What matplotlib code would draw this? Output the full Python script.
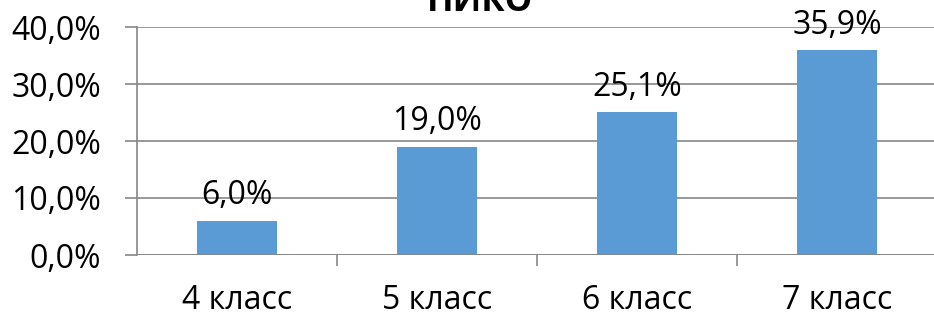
import matplotlib
matplotlib.use("Agg")
import matplotlib.pyplot as plt
from matplotlib.ticker import FuncFormatter

categories = ["4 класс", "5 класс", "6 класс", "7 класс"]
values = [0.060, 0.190, 0.251, 0.359]
labels = ["6,0%", "19,0%", "25,1%", "35,9%"]
yticks = [0.0, 0.1, 0.2, 0.3, 0.4]
title = "НИКО"

plt.rcParams['font.family'] = ['Open Sans', 'DejaVu Sans']
W, H = 934, 318
fig = plt.figure(figsize=(W/100, H/100), dpi=100)
ax = fig.add_axes([137/W, (H-255)/H, 800/W, 228/H])
x = list(range(len(categories)))
ax.bar(x, values, width=0.4, color="#5B9BD5", zorder=3)
ax.set_xlim(-0.5, 3.5)
ax.set_ylim(0, 0.4)
ax.set_yticks(yticks)
ax.yaxis.set_major_formatter(FuncFormatter(lambda v, p: f"{v*100:.1f}%".replace(".", ",")))
ax.grid(axis='y', color="#868686", linewidth=1.2, zorder=0)
for s in ['top', 'right', 'bottom']:
    ax.spines[s].set_visible(False)
ax.spines['left'].set_color("#868686")
ax.spines['left'].set_linewidth(1.2)
ax.axhline(0, color="#868686", linewidth=1.2, zorder=4)
ax.set_xticks([0.5, 1.5, 2.5])
ax.set_xticklabels([])
ax.set_xticks(x, minor=True)
ax.set_xticklabels(categories, minor=True)
ax.tick_params(axis='x', which='major', length=8, color="#868686", width=1.2)
ax.tick_params(axis='x', which='minor', length=0, pad=21, labelsize=23)
ax.tick_params(axis='y', length=9, color="#868686", width=1.2, labelsize=23, pad=17)
for xi, v, l in zip(x, values, labels):
    ax.annotate(l, (xi, v), xytext=(0, 6), textcoords='offset points',
                ha='center', va='bottom', fontsize=23)
fig.text(480/W, (H-11)/H, title, ha='center', va='baseline', fontsize=25, fontweight='bold')
fig.savefig("out.png", dpi=100)
